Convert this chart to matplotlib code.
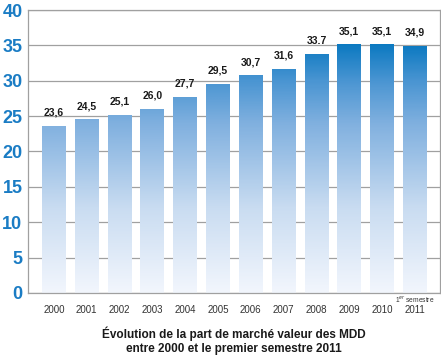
import matplotlib
matplotlib.use("Agg")
import numpy as np
import matplotlib.pyplot as plt
from matplotlib.colors import LinearSegmentedColormap

years = ["2000", "2001", "2002", "2003", "2004", "2005",
         "2006", "2007", "2008", "2009", "2010", "2011"]
shares = [23.6, 24.5, 25.1, 26.0, 27.7, 29.5, 30.7, 31.6, 33.7, 35.1, 35.1, 34.9]
value_labels = ["23,6", "24,5", "25,1", "26,0", "27,7", "29,5",
                "30,7", "31,6", "33.7", "35,1", "35,1", "34,9"]
yticks = [0, 5, 10, 15, 20, 25, 30, 35, 40]

narrow = ["Liberation Sans Narrow", "Liberation Sans", "DejaVu Sans"]
sans = ["Liberation Sans", "DejaVu Sans"]

cmap = LinearSegmentedColormap.from_list(
    "mdd", [(0.0, "#f2f6fd"), (0.3, "#c9dcf1"), (0.6, "#80b0df"),
            (0.75, "#4a95d2"), (0.88, "#0b79c1"), (1.0, "#0070b8")])

fig = plt.figure(figsize=(4.41, 3.59), dpi=100)
ax = fig.add_axes([0.0635, 0.184, 0.934, 0.788])
ax.set_axisbelow(True)

x = np.arange(len(years))
width = 0.73
bars = ax.bar(x, shares, width=width, color="white", zorder=3)
# gradient depends on absolute height (0..40), so each bar gets its own slice
for b in bars:
    x0, h = b.get_x(), b.get_height()
    grad = np.linspace(0, h / 40, 256).reshape(-1, 1)
    ax.imshow(grad, cmap=cmap, vmin=0, vmax=1, origin="lower", aspect="auto",
              extent=(x0, x0 + width, 0, h), zorder=4, interpolation="bilinear")

for xi, v, lab in zip(x, shares, value_labels):
    ax.text(xi, v + 1.2, lab, ha="center", va="bottom", fontsize=7.5,
            fontweight="bold", family=narrow, color="#1a1a1a")

ax.set_xlim(-0.79, 11.76)
ax.set_ylim(0, 40)
ax.set_yticks(yticks)
ax.set_yticklabels([str(t) for t in yticks], fontsize=13, fontweight="bold",
                   family=narrow, color="#1a7cc4")
ax.tick_params(axis="y", length=0, pad=4)
ax.set_xticks(x)
ax.set_xticklabels(years, fontsize=7, family=narrow, color="#333333")
ax.tick_params(axis="x", length=0, pad=9)
ax.text(11, -0.25, "1$^{er}$ semestre", ha="center", va="top", fontsize=4.8,
        family=narrow, color="#333333")

ax.grid(axis="y", color="#a0a0a0", lw=0.9, zorder=0.5)
for s in ax.spines.values():
    s.set_color("#a0a0a0")
    s.set_linewidth(0.9)
    s.set_zorder(5)

ax.text(0.5, -0.12, "Évolution de la part de marché valeur des MDD\nentre 2000 et le premier semestre 2011",
        transform=ax.transAxes, ha="center", va="top", fontsize=8.5,
        fontweight="bold", family=sans, color="#1a1a1a", linespacing=1.2)

fig.savefig("out.png", dpi=100)
